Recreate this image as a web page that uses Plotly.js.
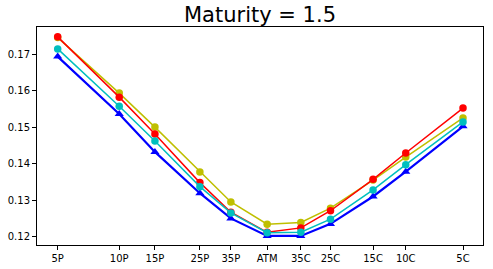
<!DOCTYPE html>
<html>
<head>
<meta charset="utf-8">
<script src="https://cdn.plot.ly/plotly-3.0.1.min.js"></script>
<style>html,body{margin:0;padding:0;background:#fff;}#chart{width:493px;height:269px;}</style>
</head>
<body>
<div id="chart"></div>
<script>
// Strike positions (relative) and their labels
var strikePos = [0, 61.6, 97.3, 142.3, 173.3, 209.6, 243.3, 273.0, 315.6, 348.3, 405.6];
var strikeLabels = ['5P', '10P', '15P', '25P', '35P', 'ATM', '35C', '25C', '15C', '10C', '5C'];

// Implied vols for each series
var volRed    = [0.1747, 0.1582, 0.1481, 0.1348, 0.1267, 0.1212, 0.1224, 0.1271, 0.1357, 0.1429, 0.1552];
var volYellow = [0.1745, 0.1593, 0.1500, 0.1377, 0.1295, 0.1234, 0.1239, 0.1278, 0.1355, 0.1418, 0.1525];
var volCyan   = [0.1714, 0.1557, 0.1462, 0.1337, 0.1265, 0.1211, 0.1212, 0.1248, 0.1328, 0.1397, 0.1514];
var volBlue   = [0.1693, 0.1536, 0.1432, 0.1319, 0.1250, 0.1202, 0.1202, 0.1235, 0.1310, 0.1378, 0.1502];

var yTicks = [0.12, 0.13, 0.14, 0.15, 0.16, 0.17];

function series(y, color, symbol, lw, ms) {
  return {
    x: strikePos, y: y, type: 'scatter', mode: 'lines+markers',
    line: {color: color, width: lw},
    marker: {color: color, symbol: symbol, size: ms},
    showlegend: false, hoverinfo: 'skip'
  };
}

var data = [
  series(volBlue, '#0000ff', 'triangle-up', 2.2, 8),
  series(volYellow, '#bfbf00', 'circle', 1.5, 7.5),
  series(volRed, '#ff0000', 'circle', 1.5, 7.5),
  series(volCyan, '#00bfbf', 'circle', 1.5, 7.5)
];

var layout = {
  width: 493, height: 269,
  margin: {l: 37, r: 10, t: 27, b: 24, pad: 0},
  paper_bgcolor: '#ffffff', plot_bgcolor: '#ffffff',
  font: {family: 'DejaVu Sans', size: 10, color: '#000000'},
  title: {text: 'Maturity = 1.5', font: {family: 'DejaVu Sans', size: 21, color: '#000000'},
          x: 0.5, xanchor: 'center', y: 0.945, yanchor: 'middle', xref: 'paper', yref: 'container'},
  xaxis: {
    range: [-20.7, 425.6], tickmode: 'array', tickvals: strikePos, ticktext: strikeLabels,
    showgrid: false, zeroline: false, showline: true, mirror: true, linecolor: '#000000', linewidth: 1,
    ticks: 'outside', ticklen: 4, tickwidth: 1, tickcolor: '#000000', tickfont: {size: 10}
  },
  yaxis: {
    range: [0.11772, 0.1774], tickmode: 'array', tickvals: yTicks, tickformat: '.2f',
    showgrid: false, zeroline: false, showline: true, mirror: true, linecolor: '#000000', linewidth: 1,
    ticks: 'outside', ticklen: 4, tickwidth: 1, tickcolor: '#000000', tickfont: {size: 10}
  }
};

Plotly.newPlot('chart', data, layout, {staticPlot: true, displayModeBar: false});
</script>
</body>
</html>
